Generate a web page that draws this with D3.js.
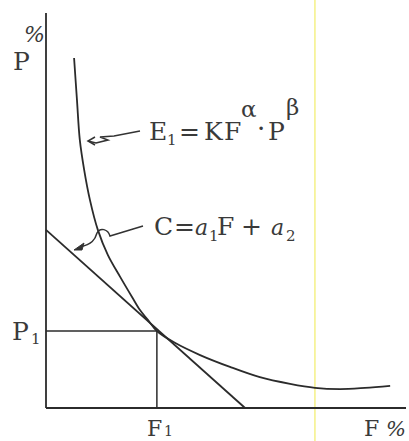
<!DOCTYPE html>
<html>
<head>
<meta charset="utf-8">
<script src="https://cdn.jsdelivr.net/npm/d3@7"></script>
<style>
  body { margin: 0; background: #fff; }
  text { font-family: "DejaVu Serif", serif; fill: #3a3a3a; }
</style>
</head>
<body>
<div id="chart"></div>
<script>
// isoquant curve E1 (F %, P %)
var curveF = [7.8, 8.6, 9.4, 10.6, 12.2, 14.4, 17.2, 20.6, 23.9, 26.1, 28.3, 30.8, 35.8, 42.8, 51.1, 59.4, 67.8, 74.7, 81.7, 88.6, 95.6];
var curveP = [88.6, 78.0, 67.8, 60.3, 52.7, 45.1, 38.7, 33.2, 28.1, 24.8, 22.3, 19.5, 16.5, 13.4, 10.4, 7.8, 6.1, 5.1, 4.8, 5.1, 5.6];

// cost line C, given by its two intercepts
var tangentF = [0, 55.3];
var tangentP = [45.1, 0];

// point of tangency
var F1 = 30.8;
var P1 = 19.5;

// yellow scan mark
var markF = 74.7;

var width = 409, height = 441;

var x = d3.scaleLinear().domain([0, 100]).range([46, 406]);
var y = d3.scaleLinear().domain([0, 100]).range([408, 13]);

var svg = d3.select('#chart').append('svg')
    .attr('width', width)
    .attr('height', height);

// yellow vertical line
svg.append('line')
    .attr('x1', x(markF)).attr('x2', x(markF))
    .attr('y1', 0).attr('y2', height)
    .style('stroke', '#f5f28e')
    .style('stroke-width', 1.6);

// axes
svg.append('line')
    .attr('x1', x(0)).attr('x2', x(0))
    .attr('y1', y(100)).attr('y2', y(0))
    .style('stroke', '#2b2b2b').style('stroke-width', 1.8);
svg.append('line')
    .attr('x1', x(0)).attr('x2', x(100))
    .attr('y1', y(0)).attr('y2', y(0))
    .style('stroke', '#2b2b2b').style('stroke-width', 1.8);

// P1 / F1 guides
svg.append('line')
    .attr('x1', x(0)).attr('x2', x(F1))
    .attr('y1', y(P1)).attr('y2', y(P1))
    .style('stroke', '#2b2b2b').style('stroke-width', 1.5);
svg.append('line')
    .attr('x1', x(F1)).attr('x2', x(F1))
    .attr('y1', y(P1)).attr('y2', y(0))
    .style('stroke', '#2b2b2b').style('stroke-width', 1.5);

// cost line
svg.append('line')
    .attr('x1', x(tangentF[0])).attr('y1', y(tangentP[0]))
    .attr('x2', x(tangentF[1])).attr('y2', y(tangentP[1]))
    .style('stroke', '#2b2b2b').style('stroke-width', 1.8);

// curve E1
var line = d3.line()
    .x(function (d, i) { return x(d); })
    .y(function (d, i) { return y(curveP[i]); })
    .curve(d3.curveCatmullRom);

svg.append('path')
    .datum(curveF)
    .attr('d', line)
    .style('fill', 'none')
    .style('stroke', '#2b2b2b')
    .style('stroke-width', 1.8);

// arrow for E1
svg.append('path')
    .attr('d', 'M140,131 L114,136 L100,137 L108,140 L96,143 L88,141')
    .style('fill', 'none').style('stroke', '#333').style('stroke-width', 1.5);
svg.append('path')
    .attr('d', 'M95,137 L88,141 L95,145')
    .style('fill', 'none').style('stroke', '#333').style('stroke-width', 1.5);

// arrow for C
svg.append('path')
    .attr('d', 'M143,226 L110,236 C108,229 100,227 97,233 C95,240 92,244 80,247')
    .style('fill', 'none').style('stroke', '#333').style('stroke-width', 1.5);
svg.append('path')
    .attr('d', 'M74,250 L84,243 L82,250 Z')
    .style('fill', '#333').style('stroke', '#333').style('stroke-width', 1);

// labels
function label(t, px, py, size, italic) {
    svg.append('text')
        .attr('x', px).attr('y', py)
        .style('font-size', size + 'px')
        .style('font-style', italic ? 'italic' : 'normal')
        .text(t);
}

label('%', 24, 42, 22, true);
label('P', 13, 70, 25);

// E1 = K F^α · P^β
label('E', 149, 140, 25);
label('1', 167, 145, 15);
label('=', 179, 140, 25);
label('K', 204, 140, 25);
label('F', 224, 140, 25);
label('α', 241, 117, 23);
label('·', 257, 137, 26);
label('P', 268, 140, 25);
label('β', 286, 115, 23);

// C = a1 F + a2
label('C', 154, 235, 25);
label('=', 174, 235, 25);
label('a', 195, 235, 22, true);
label('1', 209, 241, 15);
label('F', 217, 235, 25);
label('+', 241, 235, 25);
label('a', 271, 235, 22, true);
label('2', 286, 241, 15);

// P1, F1, F %
label('P', 12, y(P1) + 9, 25);
label('1', 31, y(P1) + 13, 15);
label('F', x(F1) - 10, 436, 22);
label('1', x(F1) + 7, 436, 14);
label('F', 364, 436, 22);
label('%', 386, 436, 21, true);
</script>
</body>
</html>
